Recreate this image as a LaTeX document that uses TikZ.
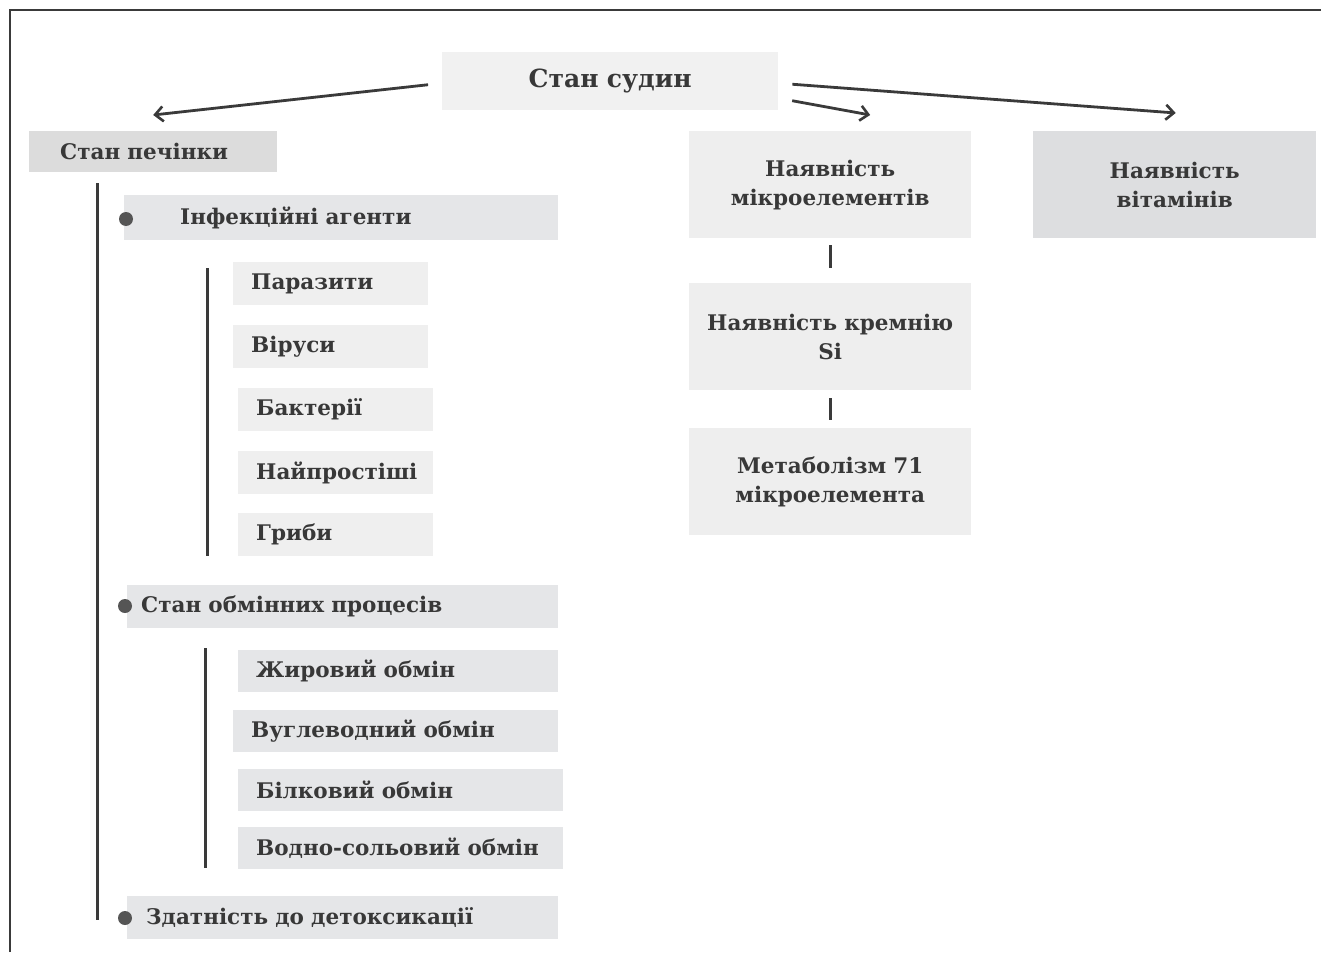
\documentclass[tikz,border=0pt]{standalone}
\usepackage{fontspec}
\setmainfont{DejaVu Serif}
\usetikzlibrary{arrows.meta}
\definecolor{txt}{HTML}{383838}
\definecolor{ln}{HTML}{3A3A3A}
\definecolor{fA}{HTML}{F1F1F1}
\definecolor{fB}{HTML}{DCDCDC}
\definecolor{fC}{HTML}{EEEEEE}
\definecolor{fD}{HTML}{DDDEE0}
\definecolor{fE}{HTML}{E5E6E8}
\definecolor{fF}{HTML}{EFEFEF}
\definecolor{dotc}{HTML}{555555}
\tikzset{
  bx/.style={rectangle, inner ysep=0pt, text=txt, font=\bfseries\fontsize{21.5}{29}\selectfont, anchor=north west},
  lb/.style={bx, align=left},
  cb/.style={bx, align=center, inner xsep=0pt},
  arr/.style={draw=ln, line width=2.8pt, -{Straight Barb[length=8pt,width=15pt,line width=2.6pt]}},
  ln/.style={draw=ln, line width=3pt},
  dotn/.style={circle, fill=dotc, minimum size=14pt, inner sep=0pt}
}
\begin{document}
\begin{tikzpicture}[x=1pt,y=-1pt]
\useasboundingbox (0,0) rectangle (1321,952);
\draw[line width=1.4pt, draw=ln] (10,952) -- (10,10) -- (1322,10);
% top level
\node[cb, fill=fA, text width=336pt, minimum height=58pt, font=\bfseries\fontsize{25}{29}\selectfont] (sud) at (442,52) {Стан судин};
\node[lb, fill=fB, inner xsep=31pt, text width=186pt, minimum height=41pt] (pech) at (29,131) {Стан печінки};
\node[cb, fill=fC, text width=282pt, minimum height=107pt] (mikro) at (689,131) {Наявність\\мікроелементів};
\node[cb, fill=fD, text width=283pt, minimum height=107pt] (vit) at (1033,131) {Наявність\\вітамінів};
\node[cb, fill=fC, text width=282pt, minimum height=107pt] (krem) at (689,283) {Наявність кремнію\\Si};
\node[cb, fill=fC, text width=282pt, minimum height=107pt] (metab) at (689,428) {Метаболізм 71\\мікроелемента};
% arrows
\draw[arr, shorten <=14pt] ([yshift=-2pt]sud.west) -- ([yshift=16pt]pech.north);
\draw[arr, shorten <=14pt] ([yshift=-17pt]sud.east) -- ([xshift=40pt,yshift=16pt]mikro.north);
\draw[arr, shorten <=14pt] ([yshift=-2pt]sud.east) -- ([xshift=1pt,yshift=18pt]vit.north);
\draw[ln, shorten <=7pt, shorten >=15pt] (mikro.south) -- (krem.north);
\draw[ln, shorten <=8pt, shorten >=8pt] (krem.south) -- (metab.north);
% left tree
\node[lb, fill=fE, inner xsep=56pt, text width=322pt, minimum height=45pt] (inf) at (124,195) {Інфекційні агенти};
\node[lb, fill=fF, inner xsep=18pt, text width=159pt, minimum height=43pt] (par) at (233,262) {Паразити};
\node[lb, fill=fF, inner xsep=18pt, text width=159pt, minimum height=43pt] (vir) at (233,325) {Віруси};
\node[lb, fill=fF, inner xsep=18pt, text width=159pt, minimum height=43pt] (bak) at (238,388) {Бактерії};
\node[lb, fill=fF, inner xsep=18pt, text width=159pt, minimum height=43pt] (naj) at (238,451) {Найпростіші};
\node[lb, fill=fF, inner xsep=18pt, text width=159pt, minimum height=43pt] (hryb) at (238,513) {Гриби};
\node[lb, fill=fE, inner xsep=14pt, text width=403pt, minimum height=43pt] (obm) at (127,585) {Стан обмінних процесів};
\node[lb, fill=fE, inner xsep=18pt, text width=284pt, minimum height=42pt] (zhyr) at (238,650) {Жировий обмін};
\node[lb, fill=fE, inner xsep=18pt, text width=289pt, minimum height=42pt] (vuhl) at (233,710) {Вуглеводний обмін};
\node[lb, fill=fE, inner xsep=18pt, text width=289pt, minimum height=42pt] (bilk) at (238,769) {Білковий обмін};
\node[lb, fill=fE, inner xsep=18pt, text width=289pt, minimum height=42pt] (vodn) at (238,827) {Водно-сольовий обмін};
\node[lb, fill=fE, inner xsep=19pt, text width=393pt, minimum height=43pt] (det) at (127,896) {Здатність до детоксикації};
\node[dotn] (d1) at (126,219) {};
\node[dotn] (d2) at (125,606) {};
\node[dotn] (d3) at (125,918) {};
\coordinate (t1) at (97,183);
\coordinate (t2) at (97,920);
\coordinate (s1) at (207,268);
\coordinate (s2) at (207,556);
\coordinate (u1) at (205,648);
\coordinate (u2) at (205,868);
\draw[ln] (t1) -- (t2);
\draw[ln] (s1) -- (s2);
\draw[ln] (u1) -- (u2);
\end{tikzpicture}
\end{document}
